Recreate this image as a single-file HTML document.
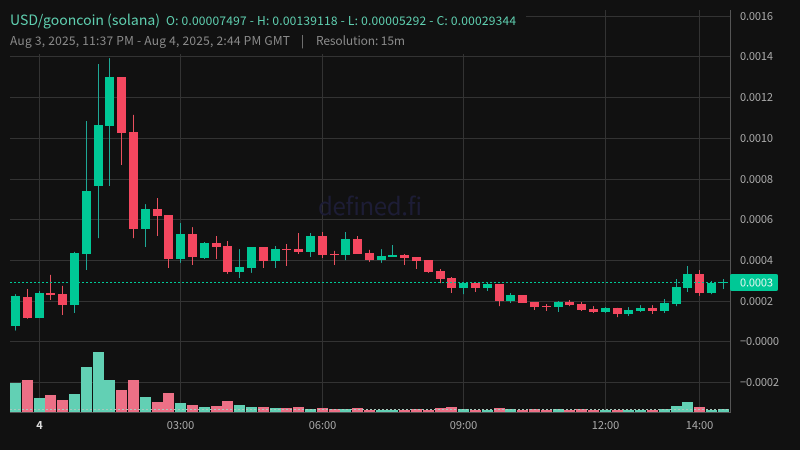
<!DOCTYPE html>
<html>
<head>
<meta charset="utf-8">
<title>USD/gooncoin chart</title>
<style>
html,body{margin:0;padding:0;background:#111;width:800px;height:450px;overflow:hidden}
svg{display:block}
text{font-family:"Noto Sans CJK JP","Liberation Sans",sans-serif}
</style>
</head>
<body>
<svg id="chart" xmlns="http://www.w3.org/2000/svg" width="800" height="450" viewBox="0 0 800 450">
  <rect x="0" y="0" width="800" height="450" fill="#111111"/>
  <g id="grid"></g>
  <text x="318" y="215" font-size="24" fill="#1d1d36" textLength="104" lengthAdjust="spacing">defined.fi</text>
  <g id="candles"></g>
  <g id="volumes"></g>
  <g id="overlays"></g>
  <rect x="10" y="10" width="516" height="44" fill="#111111"/>
  <text x="10" y="25" font-size="14" fill="#5fcfb0" textLength="150" lengthAdjust="spacing">USD/gooncoin (solana)</text>
  <text x="166" y="25" font-size="12" fill="#5fcfb0" textLength="350" lengthAdjust="spacing">O: 0.00007497 - H: 0.00139118 - L: 0.00005292 - C: 0.00029344</text>
  <text x="10" y="45" font-size="12" fill="#8a8a8a" textLength="280" lengthAdjust="spacing">Aug 3, 2025, 11:37 PM - Aug 4, 2025, 2:44 PM GMT</text>
  <text x="301" y="45" font-size="12" fill="#8a8a8a">|</text>
  <text x="316" y="45" font-size="12" fill="#8a8a8a" textLength="89" lengthAdjust="spacing">Resolution: 15m</text>
  <line x1="730.5" y1="10" x2="730.5" y2="412" stroke="#555555" stroke-width="1"/>
  <line x1="10" y1="412.5" x2="731" y2="412.5" stroke="#555555" stroke-width="1"/>
  <g id="yLabels"></g>
  <g id="xLabels"></g>
</svg>
<script>
var opens  = [75,218,116,237,232,178,429,763,1058,1298,1028,552,650,620,404,527,409,483,468,340,360,463,394,453,453,439,517,429,424,503,434,399,414,424,414,399,345,311,262,286,262,281,198,227,193,173,168,193,183,159,144,164,134,149,164,149,183,262,331,237,288];
var highs  = [232,257,247,326,272,439,1082,1362,1391,1298,1112,674,704,620,581,561,488,517,493,453,463,463,468,478,532,532,537,444,537,517,449,453,473,429,414,399,355,316,291,286,291,281,237,227,193,183,198,203,193,173,168,164,168,178,178,208,306,370,350,296,306];
var lows   = [53,111,116,203,129,139,350,507,763,866,507,463,517,360,385,375,404,404,331,311,336,360,360,370,429,414,409,375,399,429,390,385,414,375,355,336,286,237,232,242,247,173,188,188,154,149,144,173,149,139,139,119,124,144,134,139,173,242,223,232,257];
var closes = [223,116,237,227,178,434,738,1063,1298,1023,552,650,616,404,527,414,483,463,340,365,463,394,453,449,439,517,424,424,503,429,399,419,424,409,394,340,306,262,286,262,281,198,227,188,168,168,193,178,154,144,164,134,154,164,149,188,267,331,237,286,293];
var volumes = [29,32,14,17,12,18,45,60,32,22,32,15,10,19,9,7,5,6,11,7,5,5,4,4,5,3,4,3,3,4,2,2,2,2,3,2,4,5,3,2,2,4,3,2,3,2,3,2,3,2,2,2,2,2,2,3,6,10,5,2,3];
var lastPrice = 293.44;
var priceTicks = [1600,1400,1200,1000,800,600,400,200,0,-200];
var priceTickLabels = ["0.0016","0.0014","0.0012","0.0010","0.0008","0.0006","0.0004","0.0002","\u22120.0000","\u22120.0002"];
var timeTickSlots = [2,14,26,38,50,58];
var timeTickLabels = ["4","03:00","06:00","09:00","12:00","14:00"];

var NS = "http://www.w3.org/2000/svg";
function priceY(v){ return 341.3 - v * 0.20357; }
function volumeY(v){ return 412.3 - v; }
function slotX(i){ return 15.55 + i * 11.795; }
function snapY(y){ return Math.floor(y + 0.6) + 0.5; }
function make(tag, parent, attrs){
  var el = document.createElementNS(NS, tag);
  for (var k in attrs) el.setAttribute(k, attrs[k]);
  parent.appendChild(el);
  return el;
}
var grid = document.getElementById("grid");
var yLabels = document.getElementById("yLabels");
var xLabels = document.getElementById("xLabels");
var candles = document.getElementById("candles");
var vols = document.getElementById("volumes");
var overlays = document.getElementById("overlays");

priceTicks.forEach(function(t, i){
  var y = snapY(priceY(t));
  var line = make("line", grid, {x1:10, x2:730, y1:y, y2:y, stroke:"#333333", "stroke-width":1});
  
  
  var label = make("text", yLabels, {x:740, y:y + 3.5, "font-size":11, fill:"#aaaaaa", textLength: priceTickLabels[i].length > 6 ? 39 : 33, lengthAdjust:"spacing"});
  
  
  label.textContent = priceTickLabels[i];
});

timeTickSlots.forEach(function(s, i){
  var x = Math.floor(slotX(s)) + 0.5;
  var line = make("line", grid, {x1:x, x2:x, y1:10, y2:412, stroke:"#333333", "stroke-width":1});
  
  
  var first = timeTickLabels[i].length === 1;
  var label = make("text", xLabels, {x:x, y:429, "font-size":11, "text-anchor":"middle", fill: first ? "#dddddd" : "#aaaaaa", "font-weight": first ? "700" : "400"});
  
  
  label.textContent = timeTickLabels[i];
});

opens.forEach(function(o, i){
  var c = closes[i];
  var up = c >= o;
  var cx = Math.floor(slotX(i)) + 0.5;
  var wick = make("line", candles, {x1:cx, x2:cx, y1:priceY(highs[i]), y2:priceY(lows[i]), stroke: up ? "#1ea896" : "#e9515f", "stroke-width":1});
  
  
  var top = Math.round(priceY(Math.max(o, c)));
  var bot = Math.round(priceY(Math.min(o, c)));
  var body = make("rect", candles, {x:cx - 4.5, y:top, width:9, height:Math.max(bot - top, 1), fill: up ? "#00c896" : "#f4475f"});
  
  
  var vTop = Math.round(volumeY(volumes[i]));
  var bar = make("rect", vols, {x:cx - 5.5, y:vTop, width:11, height:412 - vTop, fill: up ? "#62d0b4" : "#ec7086"});
  
  
});

var py = snapY(priceY(lastPrice));
var priceLine = make("line", overlays, {x1:10, x2:730, y1:py, y2:py, stroke:"#00c896", "stroke-width":1, "stroke-dasharray":"2 2"});


var vy = Math.round(volumeY(volumes[volumes.length - 1])) + 0.5;
var volLine = make("line", overlays, {x1:10, x2:730, y1:vy, y2:vy, stroke:"#a8c8bc", "stroke-width":1, "stroke-dasharray":"2 2"});


var tag = make("rect", yLabels, {x:730, y:py - 8.5, width:48, height:17, rx:2, fill:"#00c896"});


var tagText = make("text", yLabels, {x:740, y:py + 4, "font-size":11, fill:"#e6f7f1", textLength:33, lengthAdjust:"spacing"});


tagText.textContent = (lastPrice / 1e6).toFixed(4);
</script>
</body>
</html>
